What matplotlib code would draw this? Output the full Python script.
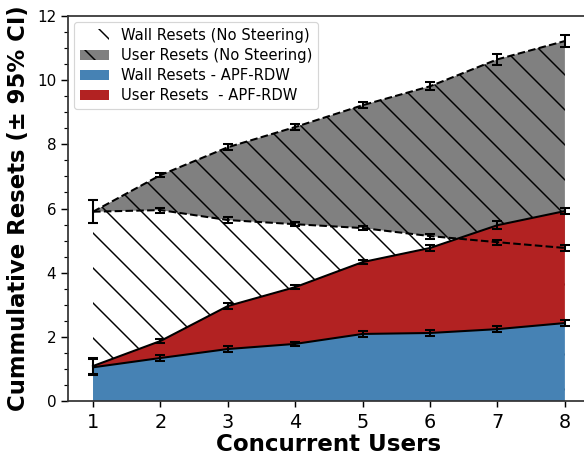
import numpy as np
import matplotlib
matplotlib.use("Agg")
import matplotlib.pyplot as plt
from matplotlib.ticker import AutoMinorLocator

users = [1, 2, 3, 4, 5, 6, 7, 8]

# no steering (cumulative)
wall_none = [5.90, 5.95, 5.64, 5.51, 5.39, 5.14, 4.95, 4.77]
wall_none_ci = [0.35, 0.08, 0.10, 0.07, 0.07, 0.08, 0.08, 0.10]
total_none = [5.90, 7.04, 7.91, 8.54, 9.22, 9.81, 10.65, 11.22]
total_none_ci = [0.35, 0.07, 0.10, 0.10, 0.10, 0.13, 0.18, 0.18]

# APF-RDW (cumulative)
wall_apf = [1.05, 1.34, 1.62, 1.78, 2.09, 2.12, 2.24, 2.43]
wall_apf_ci = [0.25, 0.08, 0.08, 0.06, 0.09, 0.10, 0.10, 0.08]
total_apf = [1.09, 1.87, 2.96, 3.55, 4.33, 4.77, 5.48, 5.92]
total_apf_ci = [0.25, 0.05, 0.08, 0.07, 0.07, 0.08, 0.12, 0.10]

plt.rcParams['hatch.linewidth'] = 0.5

DPI = 210
fig = plt.figure(figsize=(584 / DPI, 462 / DPI), dpi=DPI)
ax = fig.add_axes([68 / 584, 1 - 401 / 462, 1.01 - 68 / 584, (401 - 16) / 462])

ax.fill_between(users, 0, wall_none, facecolor='white', edgecolor='black',
                hatch='\\\\', linewidth=0, label='Wall Resets (No Steering)')
ax.fill_between(users, wall_none, total_none, facecolor='gray', edgecolor='black',
                hatch='\\\\', linewidth=0, label='User Resets (No Steering)')
ax.fill_between(users, 0, wall_apf, facecolor='steelblue', linewidth=0,
                label='Wall Resets - APF-RDW')
ax.fill_between(users, wall_apf, total_apf, facecolor='firebrick', linewidth=0,
                label='User Resets  - APF-RDW')

eb = dict(color='black', capsize=1.8, elinewidth=0.7, capthick=0.7, linewidth=0.7)
ax.errorbar(users, wall_none, yerr=wall_none_ci, linestyle='--', **eb)
ax.errorbar(users, total_none, yerr=total_none_ci, linestyle='--', **eb)
ax.errorbar(users, wall_apf, yerr=wall_apf_ci, linestyle='-', **eb)
ax.errorbar(users, total_apf, yerr=total_apf_ci, linestyle='-', **eb)

ax.set_xlim(0.629, 8.37)
ax.set_ylim(0, 12)
ax.set_xticks(users)
ax.yaxis.set_minor_locator(AutoMinorLocator(4))
ax.tick_params(axis='x', labelsize=6.6, length=2, width=0.5, pad=2)
ax.tick_params(axis='y', which='major', labelsize=5.2, length=2.5, width=0.5, pad=1.5)
ax.tick_params(axis='y', which='minor', length=1.5, width=0.4)
for s in ax.spines.values():
    s.set_linewidth(0.6)
    s.set_color('#333333')

ax.set_xlabel('Concurrent Users', fontsize=7.9, fontweight='bold', labelpad=0.5)
ax.set_ylabel('Cummulative Resets (\u00b1 95% CI)', fontsize=7.8, fontweight='bold', labelpad=2.5)

leg = ax.legend(loc='upper left', fontsize=5.05, frameon=True, handlelength=2.0,
                borderpad=0.4, labelspacing=0.35, borderaxespad=0.4)
leg.get_frame().set_linewidth(0.4)

fig.savefig('out.png', dpi=DPI)
